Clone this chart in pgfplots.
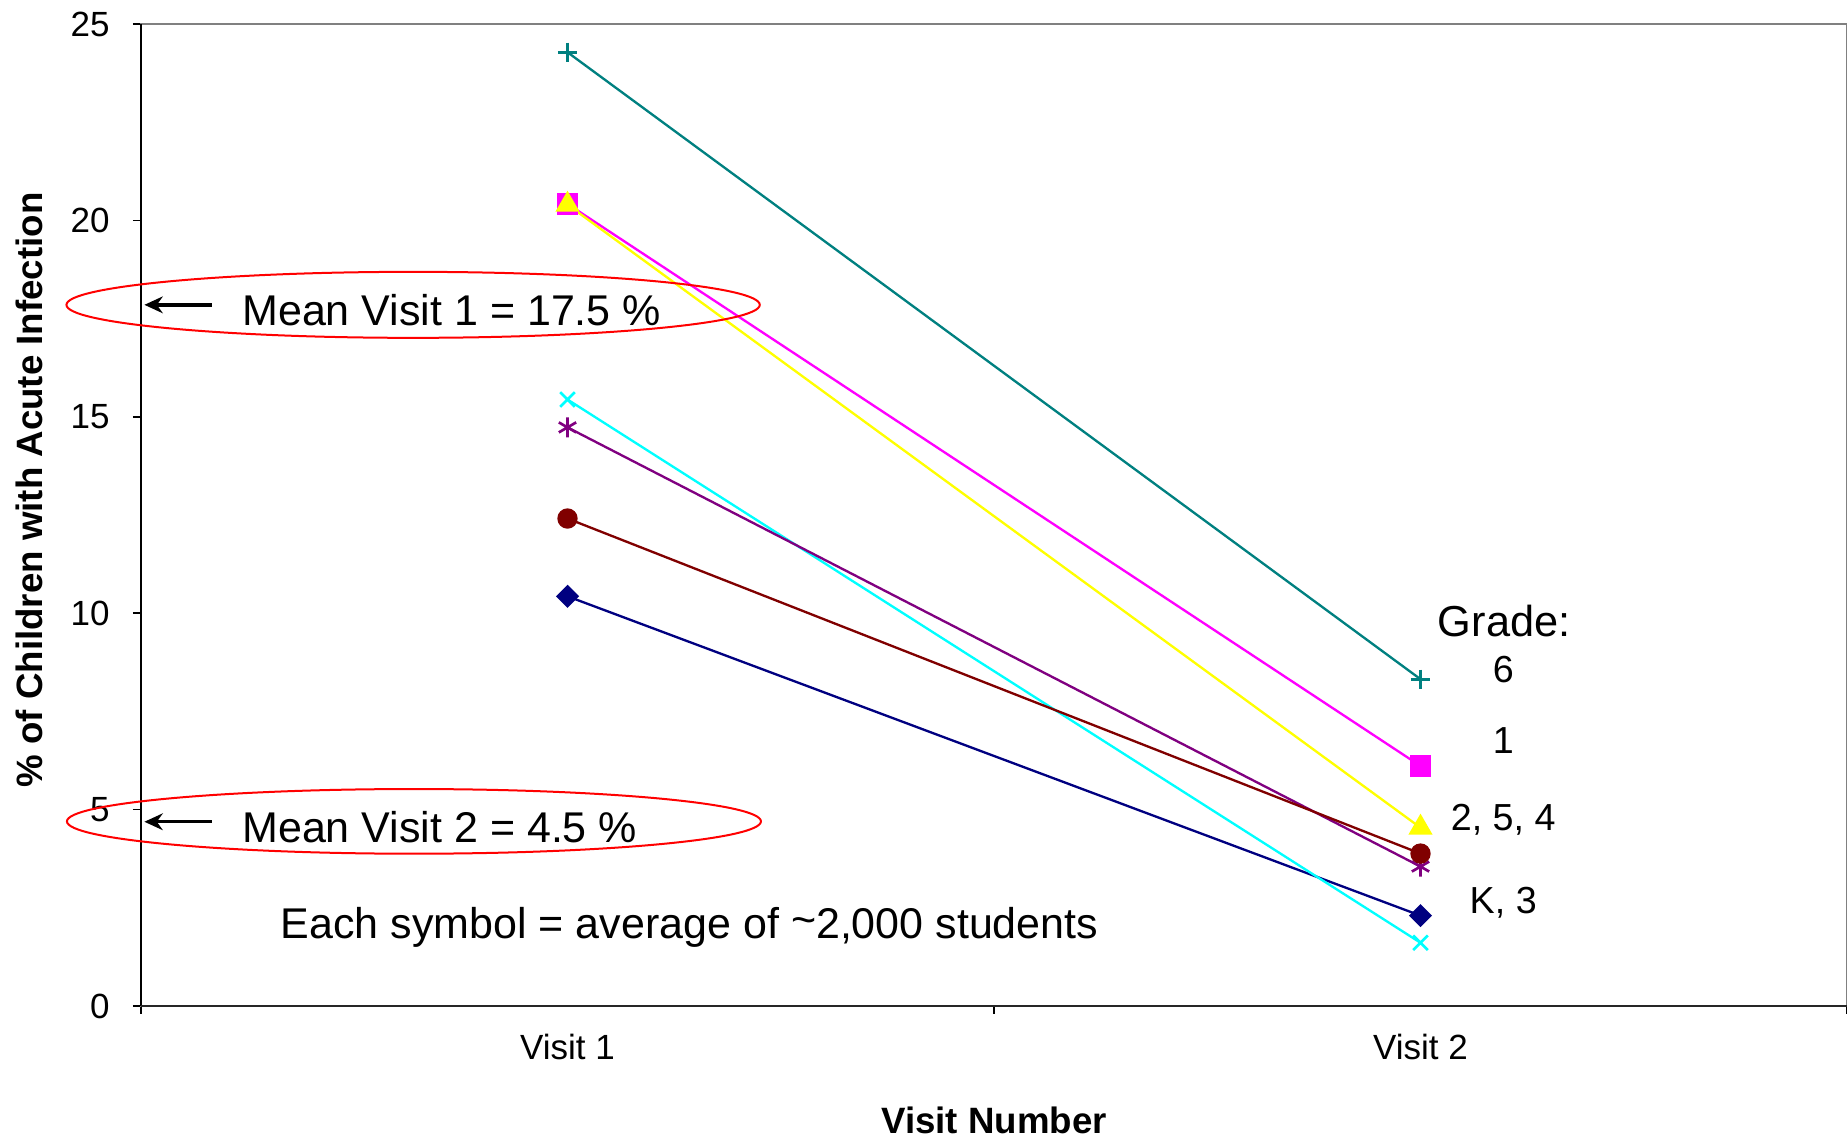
\documentclass[border=0pt]{standalone}
\usepackage{fontspec}
\setmainfont{Liberation Sans}
\usepackage{pgfplots}
\pgfplotsset{compat=1.18}
\usetikzlibrary{arrows.meta}
\definecolor{cteal}{RGB}{0,128,128}
\definecolor{cmag}{RGB}{255,0,255}
\definecolor{cyel}{RGB}{255,255,0}
\definecolor{ccyan}{RGB}{0,255,255}
\definecolor{cpurp}{RGB}{128,0,128}
\definecolor{cbrown}{RGB}{128,0,0}
\definecolor{cnavy}{RGB}{0,0,128}
\begin{document}
\begin{tikzpicture}
\useasboundingbox (-42.3pt,-39.9pt) rectangle (511.8pt,301.8pt);
\begin{axis}[
  at={(0pt,0pt)}, anchor=south west,
  scale only axis, width=511.8pt, height=294.6pt,
  xmin=0, xmax=2, ymin=0, ymax=25,
  clip=false,
  axis line style={draw=gray, line width=0.6pt},
  xtick={0.5,1.5}, xticklabels={Visit 1, Visit 2},
  minor xtick={0,1,2},
  xtick pos=bottom, ytick pos=left,
  major x tick style={draw=none},
  minor x tick style={draw=black, line width=0.5pt},
  ytick={0,5,10,15,20,25},
  ytick style={draw=black, line width=0.5pt},
  tick align=outside,
  major tick length=2.4pt, minor tick length=2.4pt,
  /pgf/number format/assume math mode=true,
  ticklabel style={font=\fontsize{10.5}{12}\selectfont},
  yticklabel style={xshift=-3.5pt},
  xticklabel style={yshift=-2.6pt},
  xlabel={\textbf{Visit Number}},
  ylabel={\textbf{\% of Children with Acute Infection}},
  label style={font=\fontsize{11}{13}\selectfont},
  xlabel style={at={(axis description cs:0.5,-0.117)}, anchor=center},
  ylabel style={at={(axis description cs:-0.0657,0.5255)}, anchor=center},
]
\draw[black, line width=0.6pt] (rel axis cs:0,0) -- (rel axis cs:0,1);
\draw[black!85, line width=0.8pt] (rel axis cs:0,0) -- (rel axis cs:1,0);

\addplot[color=cnavy, line width=0.7pt, mark=square*, mark size=2.1pt, mark options={rotate=45, fill=cnavy, solid}] coordinates {(0.5,10.43) (1.5,2.30)};
\addplot[color=cmag, line width=0.7pt, mark=square*, mark size=2.9pt, mark options={fill=cmag, solid}] coordinates {(0.5,20.42) (1.5,6.11)};
\addplot[color=cyel, line width=0.7pt, mark=triangle*, mark size=3.5pt, mark options={fill=cyel, solid}] coordinates {(0.5,20.40) (1.5,4.54)};
\addplot[color=ccyan, line width=0.7pt, mark=x, mark size=3.1pt, mark options={solid, line width=0.8pt}] coordinates {(0.5,15.44) (1.5,1.61)};
\addplot[color=cpurp, line width=0.7pt, mark=asterisk, mark size=3pt, mark options={solid, line width=0.8pt}] coordinates {(0.5,14.73) (1.5,3.55)};
\addplot[color=cbrown, line width=0.7pt, mark=*, mark size=2.7pt, mark options={fill=cbrown, solid}] coordinates {(0.5,12.41) (1.5,3.88)};
\addplot[color=cteal, line width=0.7pt, mark=+, mark size=2.9pt, mark options={solid, line width=0.8pt}] coordinates {(0.5,24.28) (1.5,8.32)};

% annotations
\draw[red, line width=0.6pt] (axis cs:0.319,17.85) ellipse [x radius=104pt, y radius=9.9pt];
\draw[red, line width=0.6pt] (axis cs:0.320,4.70) ellipse [x radius=104.1pt, y radius=9.7pt];
\draw[black, line width=1pt, -{Stealth[length=5.5pt,width=5pt]}] (axis cs:0.083,17.85) -- (axis cs:0.004,17.85);
\draw[black, line width=1pt, -{Stealth[length=5.5pt,width=5pt]}] (axis cs:0.083,4.69) -- (axis cs:0.004,4.69);
\node[anchor=west, inner sep=0pt, text depth=0pt, font=\fontsize{12.9}{15}\selectfont] at (axis cs:0.118,17.73) {Mean Visit 1 = 17.5 \%};
\node[anchor=west, inner sep=0pt, text depth=0pt, font=\fontsize{12.9}{15}\selectfont] at (axis cs:0.118,4.57) {Mean Visit 2 = 4.5 \%};
\node[anchor=west, inner sep=0pt, font=\fontsize{12.9}{15}\selectfont] at (axis cs:0.163,1.99) {Each symbol = average of {\raisebox{0.2ex}{\textasciitilde}}2,000 students};

\node[inner sep=0pt, text depth=0pt, font=\fontsize{13}{15}\selectfont] at (axis cs:1.598,9.80) {Grade:};
\node[inner sep=0pt, text depth=0pt, font=\fontsize{11.3}{13}\selectfont] at (axis cs:1.597,8.57) {6};
\node[inner sep=0pt, text depth=0pt, font=\fontsize{11.3}{13}\selectfont] at (axis cs:1.597,6.76) {1};
\node[inner sep=0pt, text depth=0pt, font=\fontsize{11.3}{13}\selectfont] at (axis cs:1.597,4.81) {2, 5, 4};
\node[inner sep=0pt, text depth=0pt, font=\fontsize{11.3}{13}\selectfont] at (axis cs:1.597,2.68) {K, 3};
\end{axis}
\end{tikzpicture}
\end{document}
